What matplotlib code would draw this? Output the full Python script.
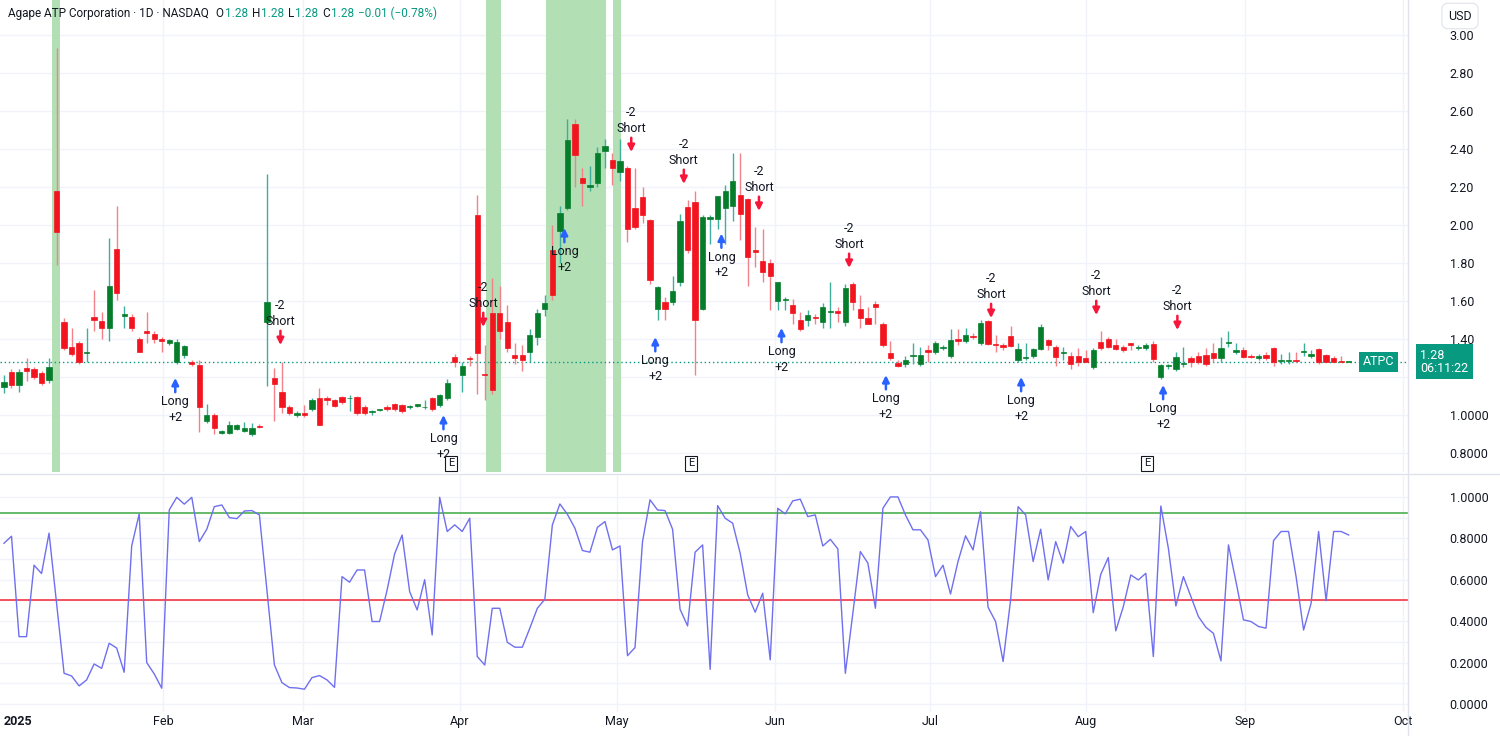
import matplotlib
matplotlib.use('Agg')
import matplotlib.pyplot as plt
import numpy as np

# ---- data ----
opens = [1.149,1.228,1.16,1.245,1.24,1.219,1.184,2.18,1.49,1.36,1.38,1.325,1.518,1.496,1.46,1.872,1.52,1.518,1.40,1.44,
         1.425,1.40,1.377,1.28,1.316,1.28,1.263,0.97,1.00,0.904,0.907,0.925,0.916,0.90,0.944,1.49,1.196,1.123,1.04,1.00,
         1.01,1.03,1.088,1.088,1.08,1.096,1.087,1.096,1.044,1.014,1.025,1.044,1.06,1.053,1.04,1.047,1.04,1.088,1.053,1.088,
         1.307,1.21,1.30,2.05,1.215,1.535,1.535,1.49,1.315,1.315,1.33,1.41,1.56,1.868,1.97,2.09,2.53,2.245,2.20,2.22,
         2.39,2.34,2.28,2.30,2.09,2.146,2.026,1.56,1.596,1.596,1.70,2.096,2.12,1.56,2.03,2.03,2.09,2.10,2.16,2.135,
         1.87,1.81,1.80,1.60,1.605,1.58,1.50,1.50,1.515,1.49,1.54,1.545,
         1.49,1.69,1.56,1.51,1.584,1.479,1.325,1.275,1.27,1.31,1.27,1.342,1.33,1.35,1.31,1.398,1.39,1.416,1.377,1.496,
         1.374,1.368,1.416,1.29,1.30,1.31,1.345,1.395,1.356,1.325,1.31,1.31,1.30,1.25,1.386,1.40,1.37,1.36,1.377,1.35,
         1.35,1.372,1.20,1.258,1.24,1.27,1.298,1.31,1.316,1.325,1.298,1.38,1.333,1.342,1.31,1.302,1.316,1.35,1.285,1.285,
         1.29,1.33,1.31,1.345,1.316,1.298,1.285,1.28]
highs = [1.21,1.24,1.24,1.30,1.25,1.23,1.298,2.93,1.51,1.456,1.39,1.456,1.66,1.54,1.93,2.10,1.575,1.53,1.41,1.54,
         1.44,1.41,1.40,1.40,1.37,1.29,1.29,1.06,1.01,0.92,0.97,0.95,0.965,0.96,0.95,2.27,1.245,1.28,1.05,1.02,
         1.05,1.09,1.14,1.10,1.085,1.10,1.105,1.10,1.05,1.025,1.03,1.05,1.065,1.06,1.05,1.06,1.08,1.095,1.11,1.19,
         1.32,1.28,1.31,2.16,1.37,1.72,1.68,1.58,1.38,1.37,1.45,1.56,1.63,2.0,2.10,2.56,2.56,2.30,2.31,2.41,
         2.45,2.38,2.45,2.31,2.30,2.20,2.03,1.68,1.62,1.73,2.06,2.13,2.18,2.05,2.05,2.15,2.21,2.38,2.38,2.14,
         1.99,1.98,1.82,1.70,1.62,1.61,1.54,1.55,1.53,1.59,1.70,1.57,
         1.69,1.70,1.63,1.57,1.60,1.49,1.39,1.29,1.31,1.38,1.36,1.37,1.39,1.37,1.45,1.45,1.46,1.43,1.50,1.50,
         1.42,1.38,1.47,1.38,1.38,1.35,1.48,1.40,1.37,1.36,1.33,1.35,1.34,1.35,1.44,1.41,1.40,1.37,1.38,1.37,
         1.38,1.39,1.27,1.27,1.33,1.36,1.31,1.33,1.35,1.38,1.41,1.44,1.38,1.36,1.32,1.32,1.33,1.36,1.32,1.33,
         1.33,1.38,1.34,1.35,1.32,1.31,1.31,1.28]
lows = [1.114,1.14,1.12,1.18,1.19,1.16,1.17,1.79,1.34,1.31,1.27,1.28,1.44,1.40,1.39,1.605,1.46,1.44,1.33,1.38,
        1.38,1.33,1.37,1.27,1.30,1.26,0.91,0.96,0.90,0.90,0.90,0.92,0.91,0.89,0.93,1.15,0.97,1.01,1.00,0.99,
        0.99,1.02,0.945,1.05,1.04,1.06,1.02,1.00,1.00,1.00,1.02,1.02,1.02,1.01,1.03,1.04,1.03,1.02,1.04,1.08,
        1.25,1.12,1.26,1.11,1.08,1.11,1.40,1.33,1.27,1.23,1.28,1.37,1.52,1.605,1.80,2.08,2.20,2.10,2.18,2.20,
        2.30,2.21,2.23,1.91,1.98,2.01,1.69,1.50,1.50,1.58,1.68,1.85,1.21,1.55,1.90,1.98,1.90,2.02,1.92,1.68,
        1.78,1.70,1.55,1.55,1.55,1.48,1.44,1.47,1.48,1.46,1.46,1.49,
        1.47,1.55,1.46,1.48,1.48,1.36,1.29,1.25,1.25,1.27,1.26,1.28,1.32,1.34,1.30,1.37,1.38,1.40,1.37,1.37,
        1.33,1.34,1.36,1.28,1.29,1.30,1.34,1.34,1.26,1.29,1.24,1.26,1.28,1.24,1.34,1.35,1.34,1.33,1.34,1.34,
        1.34,1.28,1.19,1.24,1.23,1.25,1.25,1.27,1.26,1.28,1.28,1.36,1.32,1.30,1.30,1.29,1.29,1.26,1.27,1.27,
        1.28,1.31,1.30,1.27,1.28,1.28,1.28,1.28]
closes = [1.175,1.158,1.228,1.233,1.20,1.17,1.254,1.965,1.35,1.32,1.28,1.33,1.50,1.46,1.68,1.64,1.53,1.46,1.333,1.43,
          1.40,1.39,1.395,1.386,1.365,1.27,1.044,1.00,0.93,0.916,0.947,0.947,0.93,0.93,0.935,1.596,1.163,1.04,1.01,1.01,
          1.00,1.08,0.947,1.08,1.047,1.07,1.09,1.01,1.01,1.02,1.028,1.03,1.03,1.023,1.047,1.056,1.044,1.03,1.105,1.167,
          1.28,1.26,1.295,1.325,1.21,1.13,1.44,1.35,1.30,1.29,1.42,1.535,1.59,1.63,2.065,2.447,2.37,2.22,2.21,2.377,
          2.415,2.30,2.335,1.98,1.99,2.05,1.71,1.675,1.56,1.65,2.02,1.87,1.50,2.04,2.04,2.15,2.18,2.23,2.06,1.83,
          1.86,1.75,1.73,1.70,1.61,1.535,1.45,1.526,1.51,1.567,1.545,1.535,
          1.667,1.596,1.51,1.48,1.57,1.368,1.30,1.258,1.29,1.316,1.316,1.333,1.377,1.36,1.395,1.39,1.42,1.41,1.486,1.374,
          1.37,1.356,1.363,1.347,1.305,1.345,1.465,1.368,1.307,1.333,1.27,1.28,1.28,1.342,1.35,1.36,1.345,1.342,1.368,1.36,
          1.368,1.293,1.263,1.26,1.307,1.275,1.28,1.28,1.27,1.298,1.35,1.386,1.342,1.307,1.305,1.31,1.298,1.28,1.29,1.29,
          1.286,1.335,1.32,1.28,1.281,1.281,1.281,1.28]

osc = [0.776,0.81,0.325,0.325,0.67,0.63,0.825,0.486,0.148,0.135,0.087,0.116,0.193,0.172,0.293,0.27,0.153,0.763,0.918,0.20,
       0.145,0.076,0.937,0.998,0.965,0.998,0.784,0.844,0.953,0.961,0.90,0.895,0.932,0.934,0.913,0.55,0.188,0.103,0.079,0.077,
       0.071,0.127,0.137,0.116,0.08,0.615,0.588,0.647,0.647,0.398,0.398,0.55,0.725,0.816,0.543,0.454,0.60,0.333,0.998,0.833,
       0.865,0.833,0.897,
       0.229,0.188,0.462,0.462,0.298,0.274,0.274,0.366,0.462,0.506,0.865,0.966,0.916,0.849,0.741,0.733,0.853,0.881,0.744,0.763,
       0.233,0.272,0.784,0.986,0.937,0.934,0.844,0.457,0.377,0.733,0.768,0.167,0.958,0.897,0.873,0.728,0.527,0.443,0.535,0.213,
       0.945,0.918,0.981,0.989,0.905,0.913,0.763,0.795,0.749,0.148,0.438,0.736,0.68,0.462,0.945,1.0,1.0,0.913,0.841,
       0.841,0.792,0.615,0.67,0.531,0.688,0.812,0.744,0.929,0.467,0.398,0.205,0.502,0.953,0.913,0.688,0.844,0.599,0.784,0.68,
       0.857,0.808,0.833,0.441,0.626,0.707,0.353,0.47,0.623,0.599,0.631,0.229,0.956,0.752,0.473,0.615,0.519,0.422,0.37,0.341,
       0.208,0.768,0.591,0.406,0.398,0.374,0.366,0.789,0.833,0.833,0.615,0.357,0.486,0.833,0.499,0.833,0.833,0.816]

long_bars = [22.8, 58.5, 74.6, 86.7, 95.5, 103.5, 117.4, 135.4, 154.3]
long_prices = [1.195, 1.0, 1.984, 1.41, 1.955, 1.458, 1.21, 1.2, 1.158]
short_bars = [36.8, 63.8, 83.5, 90.5, 100.5, 112.5, 131.4, 145.4, 156.2]
short_prices = [1.368, 1.463, 2.384, 2.216, 2.074, 1.774, 1.51, 1.526, 1.447]
bands = [(6.4, 7.5), (64.2, 66.2), (72.2, 80.2), (81.1, 82.2)]
earn_bars = [59.5, 91.5, 152.2]
month_pos = [0, 21.2, 39.8, 60.7, 81.6, 102.7, 123.3, 144, 165.2, 186.2]
month_lbl = ['2025', 'Feb', 'Mar', 'Apr', 'May', 'Jun', 'Jul', 'Aug', 'Sep', 'Oct']
price_ticks = [0.8, 1.0, 1.4, 1.6, 1.8, 2.0, 2.2, 2.4, 2.6, 2.8, 3.0]
price_tick_lbl = ['0.8000', '1.0000', '1.40', '1.60', '1.80', '2.00', '2.20', '2.40', '2.60', '2.80', '3.00']
osc_ticks = [0.0, 0.2, 0.4, 0.6, 0.8, 1.0]
upper_lvl, lower_lvl = 0.92, 0.50
last_price = 1.28

UP, DOWN = '#067d2a', '#f2141e'
UPW, DOWNW = '#3fae9a', '#f4808a'
GRID = '#f0f3fa'
TXT = '#131722'
TEAL = '#089981'

plt.rcParams['font.family'] = ['Roboto', 'DejaVu Sans']
fig = plt.figure(figsize=(15, 7.36), dpi=100)
ax = fig.add_axes([0, 1 - 472 / 736, 1408 / 1500, 472 / 736])
ax2 = fig.add_axes([0, 1 - 712 / 736, 1408 / 1500, 236 / 736])

x = np.arange(len(opens))
o, h, l, c = map(np.array, (opens, highs, lows, closes))
up = c >= o
xmin, xmax = -0.53, 186.9

for a0, a1 in bands:
    ax.axvspan(a0, a1, color='#b2dfb4', lw=0, zorder=0.6)

for gx in month_pos[1:]:
    ax.axvline(gx, color=GRID, lw=1, zorder=0.2)
    ax2.axvline(gx, color=GRID, lw=1, zorder=0.2)
for t in price_ticks + [1.2]:
    ax.axhline(t, color=GRID, lw=1, zorder=0.2)
for t in osc_ticks + [0.1, 0.3, 0.5, 0.7, 0.9]:
    ax2.axhline(t, color=GRID, lw=1, zorder=0.2)

ax.vlines(x[up], l[up], h[up], color=UPW, lw=1, zorder=2)
ax.vlines(x[~up], l[~up], h[~up], color=DOWNW, lw=1, zorder=2)
body = np.maximum(np.abs(c - o), 0.004)
ax.bar(x, body, bottom=np.minimum(o, c), width=0.7,
       color=np.where(up, UP, DOWN), edgecolor=np.where(up, UP, DOWN), lw=0.5, zorder=3)

ax.axhline(last_price, color=TEAL, lw=1, ls=(0, (1, 2)), zorder=1)

arrow_kw = dict(arrowstyle='-|>', lw=1.8, mutation_scale=10, shrinkA=0, shrinkB=0)
for bx, py in zip(long_bars, long_prices):
    ax.annotate('', xy=(bx, py), xytext=(bx, py - 0.075),
                arrowprops=dict(color='#2962ff', **arrow_kw), zorder=5)
    ax.text(bx, py - 0.09, 'Long\n+2', ha='center', va='top', fontsize=9, color=TXT, linespacing=1.25, zorder=5)
for bx, py in zip(short_bars, short_prices):
    ax.annotate('', xy=(bx, py), xytext=(bx, py + 0.075),
                arrowprops=dict(color='#f7153a', **arrow_kw), zorder=5)
    ax.text(bx, py + 0.09, '-2\nShort', ha='center', va='bottom', fontsize=9, color=TXT, linespacing=1.25, zorder=5)

for ex in earn_bars:
    ax.text(ex, 0.745, 'E', ha='center', va='center', fontsize=8, color=TXT,
            bbox=dict(boxstyle='square,pad=0.25', fc='white', ec=TXT, lw=0.8), zorder=6)

ax.set_xlim(xmin, xmax)
ax.set_ylim(0.70, 3.184)
ax.yaxis.tick_right()
ax.set_yticks(price_ticks)
ax.set_yticklabels(price_tick_lbl)
ax.set_xticks([])
ax.tick_params(axis='y', length=0, pad=30, labelsize=9, labelcolor=TXT)
for s in ax.spines.values():
    s.set_visible(False)

# legend line at top-left
ty = 0.985
ax.text(8 / 1408, ty, 'Agape ATP Corporation · 1D · NASDAQ', transform=ax.transAxes,
        fontsize=8.5, color=TXT, va='top')
for px, s, col in [(215, 'O', TXT), (225, '1.28', TEAL), (252, 'H', TXT), (261, '1.28', TEAL),
                   (288, 'L', TXT), (295, '1.28', TEAL), (322, 'C', TXT), (331, '1.28', TEAL),
                   (358, '−0.01 (−0.78%)', TEAL)]:
    ax.text(px / 1408, ty, s, transform=ax.transAxes, fontsize=8.5, color=col, va='top')

fig.text(1460 / 1500, 1 - 16 / 736, 'USD', ha='center', va='center', fontsize=9, color=TXT,
         bbox=dict(boxstyle='round,pad=0.5', fc='white', ec='#e0e3eb', lw=0.8))
ax.text(1.0 + 12 / 1408, last_price, '1.28\n06:11:22', transform=ax.get_yaxis_transform(),
        ha='left', va='center', fontsize=9, color='white', linespacing=1.0,
        bbox=dict(boxstyle='square,pad=0.35', fc=TEAL, ec='none'), clip_on=False, zorder=7)
ax.text(1.0 - 14 / 1408, last_price, 'ATPC', transform=ax.get_yaxis_transform(),
        ha='right', va='center', fontsize=9, color='white',
        bbox=dict(boxstyle='square,pad=0.3', fc=TEAL, ec='none'), zorder=7)

# oscillator panel
ax2.plot(np.arange(len(osc)), osc, color='#6f6ff0', lw=1, zorder=3)
ax2.axhline(upper_lvl, color='#4caf50', lw=1.2, zorder=2)
ax2.axhline(lower_lvl, color='#f23645', lw=1.2, zorder=2)
ax2.set_xlim(xmin, xmax)
ax2.set_ylim(-0.039, 1.101)
ax2.yaxis.tick_right()
ax2.set_yticks(osc_ticks)
ax2.set_yticklabels([f'{t:.4f}' for t in osc_ticks])
ax2.tick_params(axis='y', length=0, pad=30, labelsize=9, labelcolor=TXT)
ax2.set_xticks(month_pos)
ax2.set_xticklabels(month_lbl)
ax2.tick_params(axis='x', length=0, pad=2, labelsize=9, labelcolor=TXT)
ax2.get_xticklabels()[0].set_fontweight('bold')
ax2.get_xticklabels()[0].set_horizontalalignment('left')
for s in ax2.spines.values():
    s.set_visible(False)

fig.add_artist(plt.Line2D([0, 1], [1 - 474 / 736] * 2, color='#e0e3eb', lw=1))
fig.add_artist(plt.Line2D([1408 / 1500] * 2, [0, 1], color='#e0e3eb', lw=1))

fig.savefig('out.png', dpi=100, facecolor='white')
